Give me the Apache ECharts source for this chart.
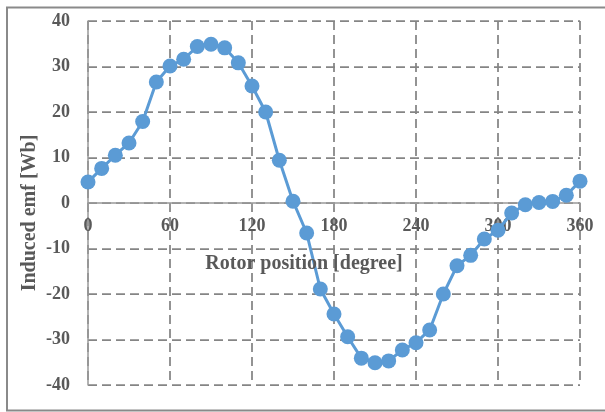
<!DOCTYPE html>
<html>
<head>
<meta charset="utf-8">
<script src="https://cdn.jsdelivr.net/npm/echarts@6/dist/echarts.min.js"></script>
<style>html,body{margin:0;padding:0;background:#fff;}#c{width:605px;height:412px;}</style>
</head>
<body>
<div id="c"></div>
<script>
var positions = [0,10,20,30,40,50,60,70,80,90,100,110,120,130,140,150,160,170,180,190,200,210,220,230,240,250,260,270,280,290,300,310,320,330,340,350,360];
var emf = [4.6,7.6,10.5,13.2,17.9,26.6,30.1,31.6,34.4,34.9,34.1,30.8,25.7,20.0,9.4,0.4,-6.6,-18.9,-24.4,-29.4,-34.1,-35.1,-34.7,-32.3,-30.7,-27.9,-20.0,-13.8,-11.5,-7.9,-6.0,-2.2,-0.4,0.1,0.35,1.7,4.8];
var xTicks = [0,60,120,180,240,300,360];
var yTicks = [-40,-30,-20,-10,0,10,20,30,40];
var xTitle = 'Rotor position [degree]';
var yTitle = 'Induced emf [Wb]';

var chart = echarts.init(document.getElementById('c'));
var font = 'Liberation Serif';
var txt = '#595959';
chart.setOption({
  animation: false,
  grid: {left: 88, right: 25, top: 21, bottom: 27},
  xAxis: {
    type: 'value', min: xTicks[0], max: xTicks[xTicks.length-1], interval: 60,
    offset: -182,
    axisLine: {show: true, onZero: false, lineStyle: {color: '#999', width: 1.5}},
    axisTick: {show: true, inside: false, length: 5, lineStyle: {color: '#999', width: 1.5}},
    axisLabel: {color: txt, fontFamily: font, fontWeight: 'bold', fontSize: 18, margin: 14},
    splitLine: {show: true, lineStyle: {color: '#858585', type: [9, 5], width: 1.75}}
  },
  yAxis: {
    type: 'value', min: yTicks[0], max: yTicks[yTicks.length-1], interval: 10,
    axisLine: {show: true, onZero: false, lineStyle: {color: '#999', width: 1.5}},
    axisTick: {show: false},
    axisLabel: {color: txt, fontFamily: font, fontWeight: 'bold', fontSize: 18, margin: 18},
    splitLine: {show: true, lineStyle: {color: '#858585', type: [9, 5], width: 1.75}}
  },
  graphic: [
    {type: 'rect', shape: {x: 7, y: 7.5, width: 610, height: 403}, style: {fill: 'none', stroke: '#8a8a8a', lineWidth: 2}, silent: true, z: 100},
    {type: 'text', x: 304, y: 264, style: {text: xTitle, fill: txt, font: 'bold 20px "Liberation Serif"', textAlign: 'center', textVerticalAlign: 'middle'}, z: 50},
    {type: 'text', x: 30, y: 213, rotation: Math.PI / 2, style: {text: yTitle, fill: txt, font: 'bold 20px "Liberation Serif"', textAlign: 'center', textVerticalAlign: 'middle'}, z: 50}
  ],
  series: [{
    type: 'line',
    data: positions.map(function(p, i){ return [p, emf[i]]; }),
    symbol: 'circle', symbolSize: 15,
    lineStyle: {color: '#5B9BD5', width: 3},
    itemStyle: {color: '#5B9BD5'},
    z: 10
  }]
});
</script>
</body>
</html>
